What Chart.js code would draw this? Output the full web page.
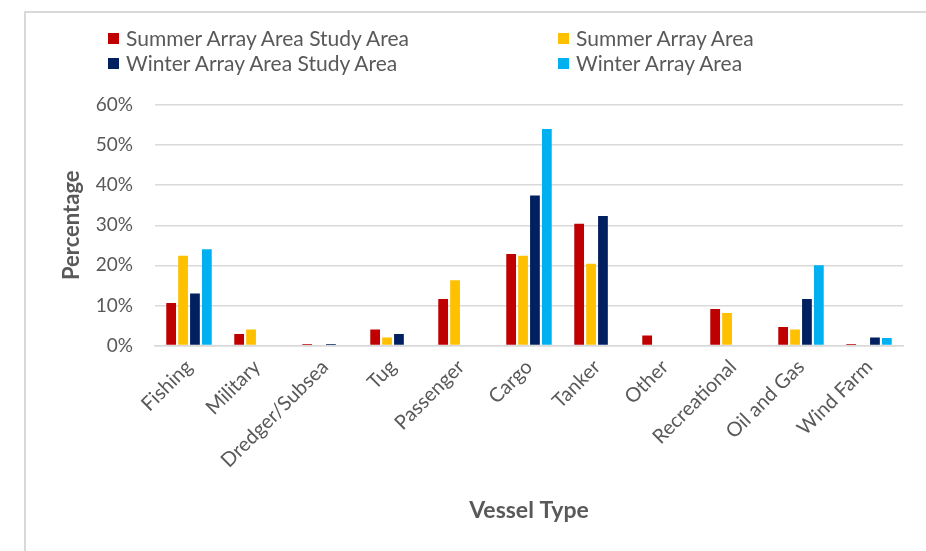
<!DOCTYPE html>
<html>
<head>
<meta charset="utf-8">
<script src="https://cdn.jsdelivr.net/npm/chart.js@4.4.1/dist/chart.umd.min.js"></script>
<style>
  html, body { margin: 0; padding: 0; background: #fff; }
  #wrap { position: relative; width: 926px; height: 551px; overflow: hidden; font-family: Lato, sans-serif; }
  #frame { position: absolute; left: 24px; top: 11px; width: 1000px; height: 700px;
           border-top: 2px solid #d9d9d9; border-left: 2px solid #d9d9d9; }
  #box { position: absolute; left: 0; top: 0; width: 926px; height: 551px; }
  #legend { position: absolute; left: 0; top: 0; }
  .item { position: absolute; display: flex; align-items: center; color: #595959; font-size: 21px; line-height: 24px; white-space: nowrap; }
  .item span.sw { width: 11px; height: 11px; margin-right: 7px; }
</style>
</head>
<body>
<div id="wrap">
  <div id="frame"></div>
  <div id="box"><canvas id="myChart"></canvas></div>
  <div id="legend"></div>
</div>
<script>
  // Categories and series (percent of vessels)
  const vesselTypes = ['Fishing', 'Military', 'Dredger/Subsea', 'Tug', 'Passenger', 'Cargo',
    'Tanker', 'Other', 'Recreational', 'Oil and Gas', 'Wind Farm']
  const summerStudyArea = [10.6, 2.9, 0.4, 4.0, 11.6, 22.8, 30.4, 2.5, 9.1, 4.6, 0.4]
  const summerArrayArea = [22.4, 4.0, 0, 2.0, 16.3, 22.4, 20.4, 0, 8.1, 4.0, 0]
  const winterStudyArea = [13.0, 0, 0.4, 2.9, 0, 37.4, 32.3, 0, 0, 11.6, 2.0]
  const winterArrayArea = [24.0, 0, 0, 0, 0, 54.0, 0, 0, 0, 20.0, 1.9]
  const yTicks = [0, 10, 20, 30, 40, 50, 60]

  const grey = '#595959'

  const datasets = [
    { label: 'Summer Array Area Study Area', data: summerStudyArea, backgroundColor: '#C00000' },
    { label: 'Summer Array Area', data: summerArrayArea, backgroundColor: '#FFC000' },
    { label: 'Winter Array Area Study Area', data: winterStudyArea, backgroundColor: '#002060' },
    { label: 'Winter Array Area', data: winterArrayArea, backgroundColor: '#00B0F0' }
  ]

  // Legend: two columns, two rows (order follows Excel's layout)
  const legendSlots = [[108, 38], [558, 38], [108, 63], [558, 63]]
  const legendEl = document.getElementById('legend')
  datasets.forEach((ds, i) => {
    const div = document.createElement('div')
    div.className = 'item'
    div.style.left = legendSlots[i][0] + 'px'
    div.style.top = (legendSlots[i][1] - 12) + 'px'
    div.innerHTML = `<span class="sw" style="background:${ds.backgroundColor}"></span>${ds.label}`
    legendEl.appendChild(div)
  })

  const ctx = document.getElementById('myChart')
  // eslint-disable-next-line no-unused-vars
  const myChart = new Chart(ctx, {
    type: 'bar',
    data: {
      labels: vesselTypes,
      datasets: datasets.map(ds => Object.assign({}, ds, {
        categoryPercentage: 0.7,
        barPercentage: 0.82,
        borderWidth: 0
      }))
    },
    options: {
      responsive: true,
      maintainAspectRatio: false,
      animation: false,
      layout: { padding: { top: 105, right: 23, left: 0, bottom: 0 } },
      plugins: {
        legend: { display: false },
        tooltip: { enabled: false }
      },
      scales: {
        x: {
          afterFit: scale => { scale.height = 205.5 },
          grid: { display: false },
          border: { display: true, color: '#d9d9d9', width: 1.5 },
          ticks: {
            autoSkip: false,
            minRotation: 45,
            maxRotation: 45,
            padding: 3,
            color: grey,
            font: { family: 'Lato', size: 20, lineHeight: 1 }
          },
          title: {
            display: true,
            text: 'Vessel Type',
            color: grey,
            padding: { bottom: 27 },
            font: { family: 'Lato', size: 23, weight: 'bold' }
          }
        },
        y: {
          min: 0,
          max: 60,
          afterFit: scale => { scale.width = 155 },
          afterBuildTicks: scale => { scale.ticks = yTicks.map(v => ({ value: v })) },
          grid: { color: '#d9d9d9', lineWidth: 1.5, drawTicks: false },
          border: { display: false },
          ticks: {
            padding: 22,
            color: grey,
            font: { family: 'Lato', size: 19 },
            callback: v => v + '%'
          },
          title: {
            display: true,
            text: 'Percentage',
            color: grey,
            padding: { top: 59 },
            font: { family: 'Lato', size: 22, weight: 'bold' }
          }
        }
      }
    }
  })
</script>
</body>
</html>
